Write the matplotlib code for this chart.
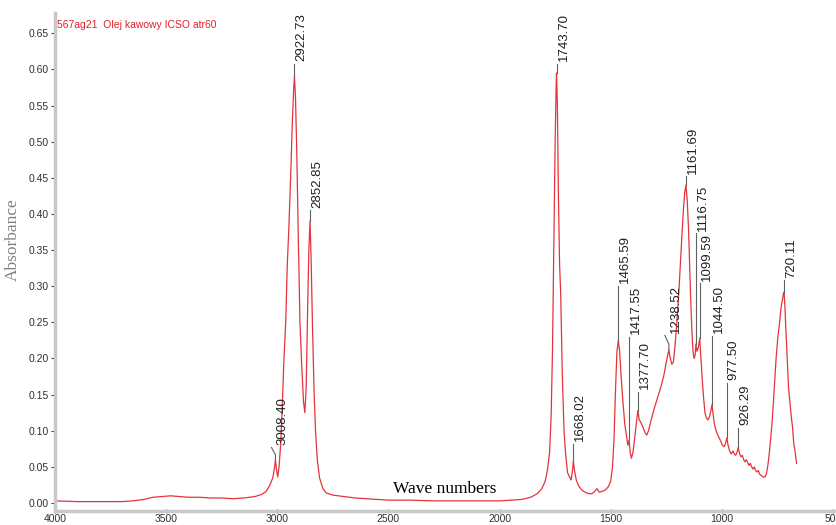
import numpy as np
import matplotlib
matplotlib.use("Agg")
import matplotlib.pyplot as plt

# spectrum (wavenumber cm-1, absorbance)
wave = [4000, 3900, 3800, 3700, 3650, 3600, 3560, 3520, 3480, 3440, 3400, 3350, 3300, 3250,
        3200, 3150, 3100, 3070, 3050, 3035, 3020, 3012, 3008.4, 3003, 2998, 2992, 2985, 2978,
        2970, 2962, 2955, 2948, 2940, 2932, 2926, 2922.73, 2918, 2912, 2905, 2898, 2890, 2882,
        2876, 2870, 2864, 2858, 2852.85, 2848, 2842, 2835, 2828, 2820, 2810, 2795, 2780, 2750,
        2700, 2650, 2600, 2500, 2400, 2300, 2200, 2100, 2000, 1950, 1900, 1860, 1830, 1810,
        1795, 1785, 1775, 1768, 1762, 1756, 1750, 1746, 1743.7, 1740, 1735, 1730, 1725, 1718,
        1710, 1702, 1694, 1685, 1678, 1672, 1668, 1663, 1655, 1645, 1630, 1615, 1600, 1585,
        1572, 1562, 1552, 1540, 1525, 1512, 1500, 1492, 1485, 1478, 1472, 1465.6, 1460, 1452,
        1445, 1437, 1430, 1423, 1417.5, 1412, 1407, 1400, 1392, 1385, 1377.7, 1372, 1365, 1355,
        1345, 1338, 1330, 1318, 1305, 1290, 1275, 1262, 1250, 1243, 1238.5, 1232, 1225, 1218,
        1210, 1200, 1192, 1185, 1178, 1172, 1167, 1161.7, 1156, 1150, 1145, 1140, 1135, 1130,
        1125, 1120, 1116.75, 1112, 1106, 1099.6, 1094, 1088, 1082, 1076, 1070, 1062, 1055, 1048,
        1044.5, 1040, 1034, 1028, 1020, 1012, 1004, 998, 990, 984, 977.5, 972, 965, 958, 950,
        944, 938, 932, 926.3, 920, 914, 908, 902, 896, 890, 884, 878, 872, 866, 860, 854, 848,
        842, 836, 830, 822, 814, 806, 800, 794, 788, 780, 772, 764, 756, 748, 740, 734, 728,
        724, 720.1, 716, 712, 706, 700, 694, 688, 682, 676, 672, 668, 664]
absorb = [0.003, 0.002, 0.002, 0.002, 0.003, 0.005, 0.008, 0.009, 0.010, 0.009, 0.008, 0.008, 0.007, 0.007,
          0.006, 0.007, 0.009, 0.012, 0.016, 0.024, 0.035, 0.050, 0.060, 0.045, 0.036, 0.050, 0.080, 0.130,
          0.200, 0.250, 0.330, 0.380, 0.450, 0.530, 0.575, 0.590, 0.560, 0.480, 0.360, 0.250, 0.190, 0.140,
          0.125, 0.160, 0.260, 0.350, 0.390, 0.340, 0.250, 0.160, 0.100, 0.060, 0.035, 0.020, 0.014, 0.011,
          0.009, 0.007, 0.006, 0.004, 0.004, 0.003, 0.003, 0.003, 0.003, 0.004, 0.005, 0.008, 0.013, 0.020,
          0.030, 0.045, 0.070, 0.120, 0.210, 0.360, 0.500, 0.570, 0.595, 0.550, 0.420, 0.330, 0.290, 0.180,
          0.100, 0.065, 0.042, 0.036, 0.032, 0.045, 0.058, 0.045, 0.032, 0.024, 0.018, 0.015, 0.013, 0.013,
          0.016, 0.020, 0.015, 0.016, 0.018, 0.022, 0.030, 0.050, 0.090, 0.160, 0.210, 0.225, 0.210, 0.170,
          0.140, 0.110, 0.095, 0.080, 0.087, 0.070, 0.062, 0.070, 0.090, 0.110, 0.128, 0.115, 0.112, 0.105,
          0.097, 0.094, 0.100, 0.115, 0.130, 0.145, 0.160, 0.175, 0.195, 0.205, 0.212, 0.200, 0.192, 0.195,
          0.220, 0.260, 0.300, 0.340, 0.380, 0.410, 0.430, 0.440, 0.420, 0.380, 0.330, 0.280, 0.240, 0.210,
          0.200, 0.205, 0.220, 0.210, 0.215, 0.228, 0.200, 0.170, 0.145, 0.125, 0.118, 0.115, 0.120, 0.130,
          0.136, 0.125, 0.110, 0.102, 0.095, 0.090, 0.085, 0.080, 0.078, 0.082, 0.090, 0.080, 0.072, 0.068, 0.072,
          0.068, 0.066, 0.070, 0.077, 0.068, 0.064, 0.066, 0.060, 0.057, 0.060, 0.056, 0.052, 0.055, 0.050, 0.047, 0.050, 0.045,
          0.043, 0.045, 0.040, 0.038, 0.036, 0.036, 0.040, 0.050, 0.065, 0.090, 0.120, 0.160, 0.200, 0.230, 0.250, 0.270, 0.280,
          0.288, 0.292, 0.270, 0.240, 0.200, 0.160, 0.140, 0.120, 0.105, 0.080, 0.075, 0.065, 0.055]

# labelled peaks: position, curve value, top of leader line
peak_wn = [3008.40, 2922.73, 2852.85, 1743.70, 1668.02, 1465.59, 1417.55, 1377.70,
           1238.52, 1161.69, 1116.75, 1099.59, 1044.50, 977.50, 926.29, 720.11]
peak_abs = [0.060, 0.590, 0.390, 0.595, 0.058, 0.225, 0.087, 0.128,
            0.212, 0.440, 0.220, 0.228, 0.136, 0.090, 0.077, 0.292]
label_top = [0.077, 0.608, 0.405, 0.608, 0.082, 0.300, 0.230, 0.154,
             0.232, 0.452, 0.373, 0.304, 0.231, 0.166, 0.104, 0.308]
slanted = [3008.40, 1238.52]

x_ticks = [4000, 3500, 3000, 2500, 2000, 1500, 1000, 500]
y_ticks = np.arange(0, 0.66, 0.05)

title = "567ag21  Olej kawowy ICSO atr60"

sans = ["Liberation Sans", "DejaVu Sans"]
serif = ["Liberation Serif", "DejaVu Serif"]

fig = plt.figure(figsize=(8.37, 5.25), dpi=100)
ax = fig.add_axes([55 / 837, 14 / 525, 782 / 837, 498 / 525])

ax.plot(wave, absorb, color="#e5333b", lw=0.9)

# leader lines and rotated peak labels
for wn, a, top in zip(peak_wn, peak_abs, label_top):
    if wn in slanted:
        mid = a + (top - a) * 0.4
        ax.plot([wn, wn, wn + 18], [a, mid, top], color="#606060", lw=0.8)
    else:
        ax.plot([wn, wn], [a, top], color="#606060", lw=0.8)
    ax.annotate(f"{wn:.2f}", xy=(wn, top), xytext=(5, 2), textcoords="offset points",
                rotation=90, ha="center", va="bottom", fontsize=9.5,
                family=sans, color="#202020")

ax.set_xlim(4000, 482)
ax.set_ylim(-0.011, 0.678)
ax.set_xticks(x_ticks)
ax.set_xticklabels([str(t) for t in x_ticks])
ax.set_yticks(y_ticks)
ax.set_yticklabels([f"{t:.2f}" for t in y_ticks])

for lab in ax.get_xticklabels() + ax.get_yticklabels():
    lab.set_family(sans)
    lab.set_fontsize(7.5)
    lab.set_color("#303030")

ax.tick_params(axis="y", length=3, width=0.8, color="#404040", pad=1.5)
ax.tick_params(axis="x", direction="inout", length=3, width=0.8, color="#404040", pad=1)

for side in ["top", "right"]:
    ax.spines[side].set_visible(False)
for side in ["left", "bottom"]:
    ax.spines[side].set_color("#c8c8c8")
    ax.spines[side].set_linewidth(2.5)

ax.text(0.003, 0.985, title, transform=ax.transAxes, color="#e0202a", fontsize=7.5,
        family=sans, ha="left", va="top")
ax.text((445 - 55) / 782, 0.045, "Wave numbers", transform=ax.transAxes,
        family=serif, fontsize=12.5, ha="center", va="center")
fig.text(13 / 837, 1 - 240 / 525, "Absorbance", rotation=90, ha="center", va="center",
         family=serif, fontsize=12.5, color="#808080")

fig.savefig("out.png", dpi=100)
